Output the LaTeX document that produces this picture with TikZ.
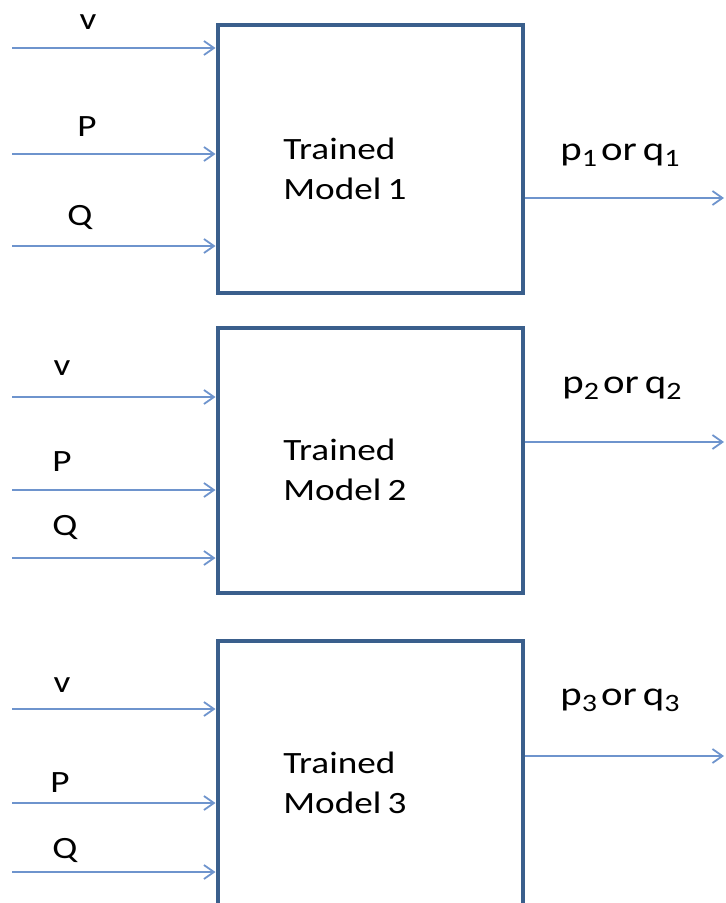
\documentclass[tikz,border=0pt]{standalone}
\usepackage{fontspec}
\setmainfont{Carlito}[FakeStretch=1.2]
\usetikzlibrary{arrows.meta}
\definecolor{boxblue}{RGB}{58,95,140}
\definecolor{lineblue}{RGB}{110,148,205}
\newcommand{\lowsub}[1]{\raisebox{-0.35ex}{\fontsize{12.5}{12}\selectfont #1}}
\newcommand{\pqout}[1]{p\lowsub{#1}\hspace{0.12em}or\hspace{0.18em}q\lowsub{#1}}

\begin{document}
\begin{tikzpicture}[x=0.5pt, y=-0.5pt, >={Straight Barb[length=5pt,width=7pt]},
  model/.style={draw=boxblue, line width=2pt, minimum width=152.5pt, inner sep=0pt},
  feed/.style={->, draw=lineblue, line width=0.9pt},
  lbl/.style={inner sep=0pt, font=\fontsize{15.5}{20}\selectfont},
  outlbl/.style={inner sep=0pt, font=\fontsize{17}{20}\selectfont}]
  % 0. 枠 (下端で切る)
  \clip (0,0) rectangle (726,903);

  % 1. モデルの箱
  \node[model, minimum height=134pt] (m1) at (370,159) {};
  \node[model, minimum height=132.5pt] (m2) at (370,460.5) {};
  \node[model, minimum height=134pt] (m3) at (370,775) {};

  % 2. 箱の中の文字
  \node[lbl, anchor=west, align=left] (t1) at (283,169) {Trained\\Model\hspace{0.2em}1};
  \node[lbl, anchor=west, align=left] (t2) at (283,470) {Trained\\Model\hspace{0.2em}2};
  \node[lbl, anchor=west, align=left] (t3) at (283,783) {Trained\\Model\hspace{0.2em}3};

  % 3. 入力 v, P, Q
  \coordinate (v1) at (12,48);  \coordinate (P1) at (12,154); \coordinate (Q1) at (12,246);
  \coordinate (v2) at (12,397); \coordinate (P2) at (12,490); \coordinate (Q2) at (12,558);
  \coordinate (v3) at (12,709); \coordinate (P3) at (12,803); \coordinate (Q3) at (12,872);
  \foreach \k in {1,2,3}{
    \draw[feed] (v\k) -- (v\k -| m\k.west);
    \draw[feed] (P\k) -- (P\k -| m\k.west);
    \draw[feed] (Q\k) -- (Q\k -| m\k.west);
  }
  \node[lbl] (lv1) at (88,22)  {v}; \node[lbl] (lP1) at (87,127) {P}; \node[lbl] (lQ1) at (80,217) {Q};
  \node[lbl] (lv2) at (62,368) {v}; \node[lbl] (lP2) at (62,462) {P}; \node[lbl] (lQ2) at (65,527) {Q};
  \node[lbl] (lv3) at (62,685) {v}; \node[lbl] (lP3) at (60,783) {P}; \node[lbl] (lQ3) at (65,850) {Q};

  % 4. 出力
  \coordinate (o1) at (724,198);
  \coordinate (o2) at (724,442);
  \coordinate (o3) at (724,756);
  \foreach \k in {1,2,3}
    \draw[feed] (m\k.east |- o\k) -- (o\k);
  \node[outlbl] (out1) at (620,155) {\pqout{1}};
  \node[outlbl] (out2) at (622,388) {\pqout{2}};
  \node[outlbl] (out3) at (620,700) {\pqout{3}};

\end{tikzpicture}
\end{document}
